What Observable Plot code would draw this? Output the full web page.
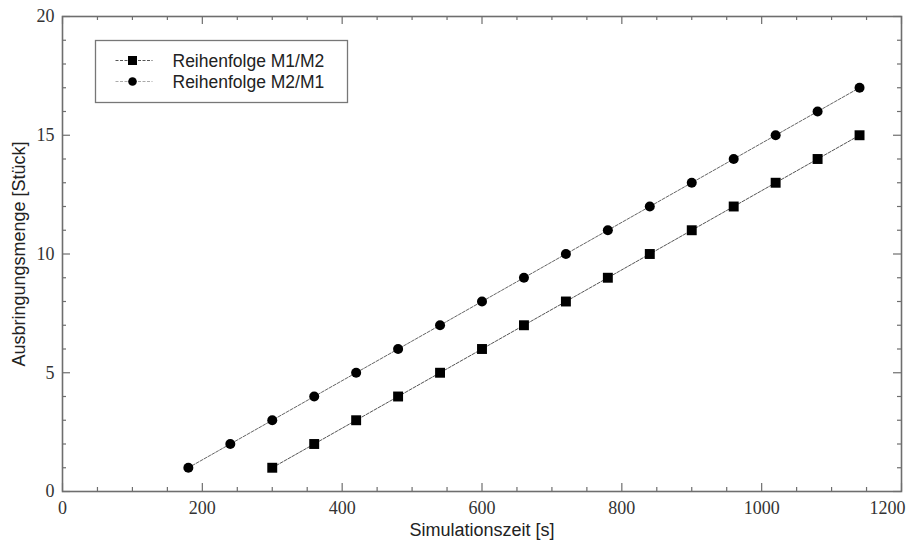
<!DOCTYPE html>
<html>
<head>
<meta charset="utf-8">
<script src="https://cdn.jsdelivr.net/npm/d3@7"></script>
<script src="https://cdn.jsdelivr.net/npm/@observablehq/plot@0.6"></script>
<style>
  body { margin: 0; background: #fff; }
  #chart { position: relative; width: 910px; height: 543px; }
</style>
</head>
<body>
<div id="chart"></div>
<script>
// Series: Reihenfolge M1/M2 (squares)
const timeM1M2 = [300, 360, 420, 480, 540, 600, 660, 720, 780, 840, 900, 960, 1020, 1080, 1140];
const countM1M2 = [1, 2, 3, 4, 5, 6, 7, 8, 9, 10, 11, 12, 13, 14, 15];
// Series: Reihenfolge M2/M1 (circles)
const timeM2M1 = [180, 240, 300, 360, 420, 480, 540, 600, 660, 720, 780, 840, 900, 960, 1020, 1080, 1140];
const countM2M1 = [1, 2, 3, 4, 5, 6, 7, 8, 9, 10, 11, 12, 13, 14, 15, 16, 17];

const seriesNames = ["Reihenfolge M1/M2", "Reihenfolge M2/M1"];
const xTickLabels = [0, 200, 400, 600, 800, 1000, 1200];
const yTickLabels = [0, 5, 10, 15, 20];
const xLabel = "Simulationszeit [s]";
const yLabel = "Ausbringungsmenge [Stück]";

const W = 910, H = 543;
const mL = 62, mR = 9, mT = 16, mB = 52;
const fw = W - mL - mR, fh = H - mT - mB;

const dataA = timeM1M2.map((t, i) => ({t, n: countM1M2[i]}));
const dataB = timeM2M1.map((t, i) => ({t, n: countM2M1[i]}));

const xMinor = d3.range(0, 1201, 50).filter(v => !xTickLabels.includes(v));
const yMinor = d3.range(0, 21, 1).filter(v => !yTickLabels.includes(v));

const axisColor = "#6e6e6e";
const serif = "'Liberation Serif', 'DejaVu Serif', serif";
const sans = "'Liberation Sans', Arial, sans-serif";
const majorLen = 8, minorLen = 4;
const lastX = xTickLabels[xTickLabels.length - 1];

const plot = Plot.plot({
  width: W, height: H,
  marginLeft: mL, marginRight: mR, marginTop: mT, marginBottom: mB,
  x: {domain: [0, 1200], axis: null},
  y: {domain: [0, 20], axis: null},
  style: {background: "#fff"},
  marks: [
    // ticks bottom/top
    Plot.ruleX(xMinor, {x: d => d, insetTop: fh - minorLen, stroke: axisColor, strokeWidth: 1.2}),
    Plot.ruleX(xTickLabels, {x: d => d, insetTop: fh - majorLen, stroke: axisColor, strokeWidth: 1.2}),
    Plot.ruleX(xMinor, {x: d => d, insetBottom: fh - minorLen, stroke: axisColor, strokeWidth: 1.2}),
    Plot.ruleX(xTickLabels, {x: d => d, insetBottom: fh - majorLen, stroke: axisColor, strokeWidth: 1.2}),
    // ticks left/right
    Plot.ruleY(yMinor, {y: d => d, insetRight: fw - minorLen, stroke: axisColor, strokeWidth: 1.2}),
    Plot.ruleY(yTickLabels, {y: d => d, insetRight: fw - majorLen, stroke: axisColor, strokeWidth: 1.2}),
    Plot.ruleY(yMinor, {y: d => d, insetLeft: fw - minorLen, stroke: axisColor, strokeWidth: 1.2}),
    Plot.ruleY(yTickLabels, {y: d => d, insetLeft: fw - majorLen, stroke: axisColor, strokeWidth: 1.2}),
    Plot.frame({stroke: axisColor, strokeWidth: 1.6}),
    // tick labels
    Plot.text(xTickLabels.filter(d => d !== lastX), {x: d => d, frameAnchor: "bottom", dy: 17, lineAnchor: "middle",
      textAnchor: "middle", text: d => String(d), fontFamily: serif, fontSize: 18, fill: "#333"}),
    Plot.text([lastX], {x: d => d, frameAnchor: "bottom", dy: 17, dx: 4, lineAnchor: "middle",
      textAnchor: "end", text: d => String(d), fontFamily: serif, fontSize: 18, fill: "#333"}),
    Plot.text(yTickLabels, {y: d => d, frameAnchor: "left", dx: -8, textAnchor: "end", lineAnchor: "middle",
      text: d => String(d), fontFamily: serif, fontSize: 18, fill: "#333"}),
    // axis titles
    Plot.text([xLabel], {frameAnchor: "bottom", dy: 39, lineAnchor: "middle", textAnchor: "middle",
      text: d => d, fontFamily: sans, fontSize: 18, fill: "#222"}),
    Plot.text([yLabel], {frameAnchor: "left", dx: -43, rotate: -90, lineAnchor: "middle", textAnchor: "middle",
      text: d => d, fontFamily: sans, fontSize: 18, fill: "#222"}),
    // series
    Plot.line(dataA, {x: "t", y: "n", stroke: "#555", strokeWidth: 1, strokeDasharray: "3,1.5"}),
    Plot.line(dataB, {x: "t", y: "n", stroke: "#666", strokeWidth: 1, strokeDasharray: "3,1.5"}),
    Plot.dot(dataA, {x: "t", y: "n", symbol: "square", r: 5.6, fill: "#000", stroke: null}),
    Plot.dot(dataB, {x: "t", y: "n", symbol: "circle", r: 5, fill: "#000", stroke: null})
  ]
});

document.getElementById("chart").appendChild(plot);

// Legend inside the plot area (top-left)
const svg = d3.select(plot);
const lg = svg.append("g").attr("transform", "translate(95.5,40.5)");
lg.append("rect").attr("width", 252).attr("height", 62)
  .attr("fill", "#fff").attr("stroke", "#777").attr("stroke-width", 1.3);
const rows = [
  {name: seriesNames[0], sym: "square", line: "#555"},
  {name: seriesNames[1], sym: "circle", line: "#aaa"}
];
rows.forEach((r, i) => {
  const y = 20 + i * 21;
  lg.append("line").attr("x1", 20).attr("x2", 57).attr("y1", y).attr("y2", y)
    .attr("stroke", r.line).attr("stroke-width", 1).attr("stroke-dasharray", "3,1.5");
  if (r.sym === "square") {
    lg.append("rect").attr("x", 37 - 4.5).attr("y", y - 4.5).attr("width", 9).attr("height", 9).attr("fill", "#000");
  } else {
    lg.append("circle").attr("cx", 37).attr("cy", y).attr("r", 4.3).attr("fill", "#000");
  }
  lg.append("text").attr("x", 77).attr("y", y).attr("dy", "0.35em")
    .attr("text-anchor", "start")
    .attr("font-family", sans).attr("font-size", 17.5).attr("fill", "#222").text(r.name);
});
</script>
</body>
</html>
